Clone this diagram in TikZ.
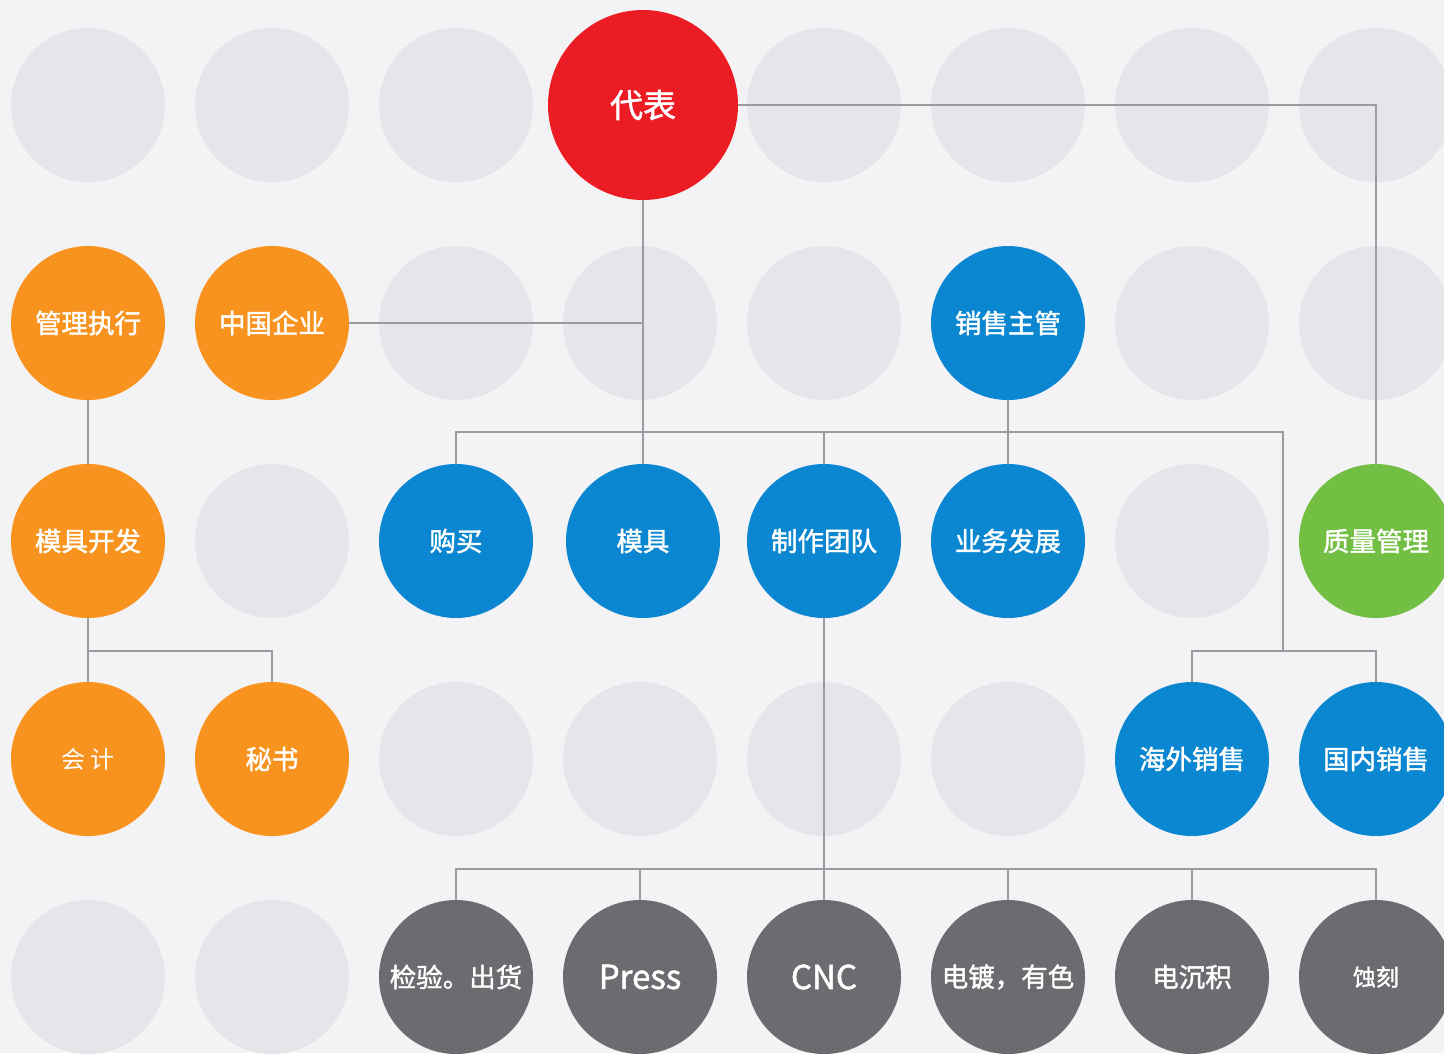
\documentclass[tikz,border=0pt]{standalone}
\usepackage{fontspec}
\setmainfont{Noto Sans CJK SC}
\setsansfont{Noto Sans CJK SC}
\newfontfamily\medf[FakeBold=1.5]{Noto Sans CJK SC}
\newfontfamily\lightf{Noto Sans CJK SC}
\definecolor{bgc}{HTML}{F3F3F5}
\definecolor{ghost}{HTML}{E6E6EA}
\definecolor{redc}{HTML}{EC1C24}
\definecolor{orangec}{HTML}{F7931E}
\definecolor{bluec}{HTML}{0A87D0}
\definecolor{greenc}{HTML}{72BF44}
\definecolor{darkc}{HTML}{6B6B70}
\definecolor{linec}{HTML}{9C9CA0}
\tikzset{
  base/.style={circle, inner sep=0pt, minimum size=154pt, text=white, font=\medf\fontsize{26.5}{26.5}\selectfont},
  ghostc/.style={circle, inner sep=0pt, minimum size=154pt, fill=ghost},
  org/.style={base, fill=orangec},
  blu/.style={base, fill=bluec},
  grn/.style={base, fill=greenc},
  drk/.style={base, fill=darkc},
  conn/.style={draw=linec, line width=1.3pt}
}
\begin{document}
\begin{tikzpicture}[x=1pt,y=-1pt]
\fill[bgc] (0,0) rectangle (1444,1053);
\useasboundingbox (0,0) rectangle (1444,1053);
\clip (0,0) rectangle (1444,1053);
% ghost circles
\foreach \i/\x/\y in {1/88/105,2/272/105,3/456/105,4/824/105,5/1008/105,6/1192/105,7/1376/105,
  8/456/323,9/640/323,10/824/323,11/1192/323,12/1376/323,
  13/272/541,14/1192/541,
  15/456/759,16/640/759,17/824/759,18/1008/759,
  19/88/977,20/272/977}
  \node[ghostc] (g\i) at (\x,\y) {};
% coloured nodes
\node[base, fill=redc, minimum size=190pt, font=\medf\fontsize{33}{33}\selectfont] (rep) at (643,105) {代表};
\node[org] (gl) at (88,323) {管理执行};
\node[org] (zg) at (272,323) {中国企业};
\node[blu] (xs) at (1008,323) {销售主管};
\node[org] (mk) at (88,541) {模具开发};
\node[blu] (gm) at (456,541) {购买};
\node[blu] (mj) at (643,541) {模具};
\node[blu] (zz) at (824,541) {制作团队};
\node[blu] (yw) at (1008,541) {业务发展};
\node[grn] (zl) at (1376,541) {质量管理};
\node[org, font=\lightf\fontsize{24}{24}\selectfont] (kj) at (88,759) {\raisebox{-2pt}{会\hspace{5pt}计}\hspace{8pt}};
\node[org] (ms) at (272,759) {\raisebox{-2pt}{秘书}};
\node[blu] (hw) at (1192,759) {海外销售};
\node[blu] (gn) at (1376,759) {国内销售};
\node[drk] (jy) at (456,977) {检验。出货};
\node[drk, font=\medf\fontsize{33}{33}\selectfont] (pr) at (640,977) {Press};
\node[drk, font=\medf\fontsize{33}{33}\selectfont] (cnc) at (824,977) {CNC};
\node[drk] (dd) at (1008,977) {电镀，有色};
\node[drk] (dc) at (1192,977) {电沉积};
\node[drk, font=\medf\fontsize{23}{23}\selectfont] (sk) at (1376,977) {蚀刻};
% helper coordinates
\coordinate (busA) at (1283,432);
\coordinate (busB) at (1283,651);
\coordinate (busC) at (0,651);
\coordinate (busD) at (0,869);
% connectors
\draw[conn] (rep.east) -| (zl.north);
\draw[conn] (rep.south) -- (mj.north);
\draw[conn] (zg.east) -- (zg.east -| rep.south);
\draw[conn] (gm.north) |- (busA) -- (busB);
\draw[conn] (zz.north) -- (zz.north |- busA);
\draw[conn] (xs.south) -- (yw.north);
\draw[conn] (hw.north) |- (busB) -| (gn.north);
\draw[conn] (gl.south) -- (mk.north);
\draw[conn] (mk.south) -- (kj.north);
\draw[conn] (mk.south |- busC) -| (ms.north);
\draw[conn] (zz.south) -- (cnc.north);
\draw[conn] (jy.north) |- (busD -| jy.north) -| (sk.north);
\draw[conn] (pr.north) -- (pr.north |- busD);
\draw[conn] (dd.north) -- (dd.north |- busD);
\draw[conn] (dc.north) -- (dc.north |- busD);
\end{tikzpicture}
\end{document}
